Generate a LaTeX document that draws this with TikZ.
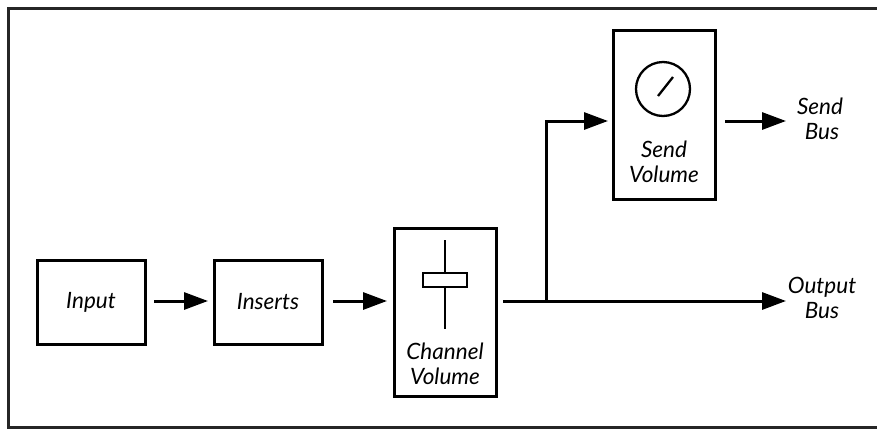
\documentclass[tikz,border=0pt]{standalone}
\usepackage{fontspec}
\setmainfont{Lato}
\usetikzlibrary{arrows.meta}
\begin{document}
\begin{tikzpicture}[x=1pt,y=-1pt,
  blk/.style={draw, line width=3pt, inner sep=0pt},
  lbl/.style={font=\itshape\fontsize{22.5}{25.5}\selectfont, align=center, inner sep=0pt},
  conn/.style={line width=3pt, -{Triangle[length=24pt,width=17pt]}},
  thin/.style={line width=2.3pt}]
\useasboundingbox (0,0) rectangle (877,429);
\begin{scope}
\clip (0,0) rectangle (877,429);
\draw[line width=3pt, black!85] (8.5,8.5) rectangle (890,427.5);
\end{scope}
% blocks
\node[blk, minimum width=108pt, minimum height=84pt] (input) at (91,302) {};
\node[lbl] at (input) {Input};
\node[blk, minimum width=108pt, minimum height=84pt] (inserts) at (268,302) {};
\node[lbl] at (inserts) {Inserts};
\node[blk, minimum width=102pt, minimum height=168pt] (chan) at (445,312) {};
\node[lbl] (chantxt) at (445,364) {Channel\\Volume};
\node[blk, minimum width=102pt, minimum height=169pt] (send) at (664,114.5) {};
\node[lbl] (sendtxt) at (664,162) {Send\\Volume};
% fader
\coordinate (ftop) at (445,240);
\coordinate (fbot) at (445,329);
\draw[thin] (ftop) -- (fbot);
\node[draw, fill=white, thin, minimum width=44pt, minimum height=14pt, inner sep=0pt] (cap) at (445,280) {};
% knob
\node[draw, circle, thin, minimum size=54pt, inner sep=0pt] (knob) at (663,89) {};
\coordinate (k1) at (658,96);
\coordinate (k2) at (673,77);
\draw[thin] (k1) -- (k2);
% bus labels
\node[lbl] (sendbus) at (820,119) {Send\\\hspace*{4pt}Bus};
\node[lbl] (outbus) at (822,298) {Output\\Bus};
% connectors
\coordinate (a1) at (154,301);
\coordinate (a2) at (208,301);
\draw[conn] (a1) -- (a2);
\coordinate (b1) at (333,301);
\coordinate (b2) at (387,301);
\draw[conn] (b1) -- (b2);
\coordinate (c1) at (503,301);
\coordinate (j) at (546,301);
\coordinate (jt) at (546,121);
\coordinate (sin) at (608,121);
\coordinate (oout) at (786,301);
\draw[conn] (c1) -- (oout);
\draw[conn] (j) -- (jt) -- (sin);
\coordinate (s1) at (725,121);
\coordinate (s2) at (786,121);
\draw[conn] (s1) -- (s2);
\end{tikzpicture}
\end{document}
